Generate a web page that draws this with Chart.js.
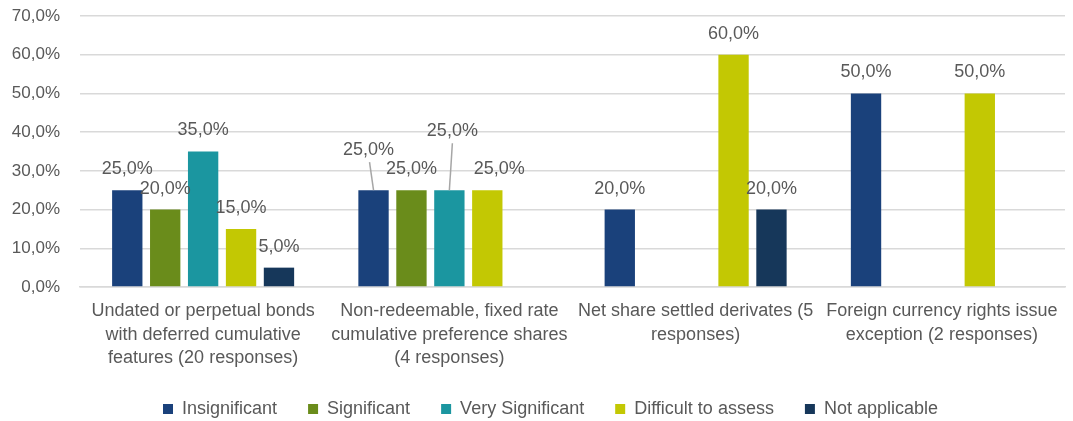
<!DOCTYPE html>
<html>
<head>
<meta charset="utf-8">
<script src="https://cdn.jsdelivr.net/npm/chart.js@4"></script>
<style>
  html, body { margin: 0; padding: 0; background: #fff; }
  #wrap { width: 1073px; height: 421px; }
</style>
</head>
<body>
<div id="wrap"><canvas id="chart" width="1073" height="421"></canvas></div>
<script>
// Data
const categories = [
  ['Undated or perpetual bonds', 'with deferred cumulative', 'features (20 responses)'],
  ['Non-redeemable, fixed rate', 'cumulative preference shares', '(4 responses)'],
  ['Net share settled derivates (5', 'responses)'],
  ['Foreign currency rights issue', 'exception (2 responses)']
];
const insignificant = [25, 25, 20, 50];
const significant = [20, 25, null, null];
const verySignificant = [35, 25, null, null];
const difficultToAssess = [15, 25, 60, 50];
const notApplicable = [5, null, 20, null];
const yTicks = [0, 10, 20, 30, 40, 50, 60, 70];

// Label nudges (dataset index -> category index -> [dx, dy]) for the moved labels
const labelNudge = {
  0: { 1: [-5, -19] },
  2: { 1: [3, -38] },
  3: { 1: [12, 0] }
};

const fmt = v => v.toFixed(1).replace('.', ',') + '%';
const FONT = '"Liberation Sans", Arial, sans-serif';
const TEXT = '#595959';

// Draw value labels above bars
const valueLabels = {
  id: 'valueLabels',
  afterDatasetsDraw(chart) {
    const ctx = chart.ctx;
    ctx.save();
    ctx.font = '18px ' + FONT;
    ctx.textAlign = 'center';
    ctx.textBaseline = 'middle';
    chart.data.datasets.forEach((ds, di) => {
      const meta = chart.getDatasetMeta(di);
      meta.data.forEach((bar, i) => {
        const v = ds.data[i];
        if (v == null) return;
        const nudge = (labelNudge[di] && labelNudge[di][i]) || [0, 0];
        const x = bar.x + nudge[0];
        const y = bar.y - 21 + nudge[1];
        if (nudge[1] < 0) {
          // leader line
          ctx.strokeStyle = '#a6a6a6';
          ctx.lineWidth = 1.5;
          ctx.beginPath();
          ctx.moveTo(x + (nudge[0] < 0 ? 1 : 0), y + 12);
          ctx.lineTo(bar.x, bar.y);
          ctx.stroke();
        }
        ctx.fillStyle = TEXT;
        ctx.fillText(fmt(v), x, y);
      });
    });
    ctx.restore();
  }
};

// Fixed legend height so the wide item spacing doesn't make it tall,
// and nudge it a bit right like the original
const legendTweak = {
  id: 'legendTweak',
  beforeInit(chart) {
    const fit = chart.legend.fit;
    chart.legend.fit = function () {
      fit.call(this);
      this.height = 52;
    };
  },
  afterLayout(chart) {
    chart.legend.left += 36;
  }
};

new Chart(document.getElementById('chart'), {
  type: 'bar',
  data: {
    labels: categories,
    datasets: [
      { label: 'Insignificant', data: insignificant, backgroundColor: '#1a417b' },
      { label: 'Significant', data: significant, backgroundColor: '#6a8c1b' },
      { label: 'Very Significant', data: verySignificant, backgroundColor: '#1b96a0' },
      { label: 'Difficult to assess', data: difficultToAssess, backgroundColor: '#c3c803' },
      { label: 'Not applicable', data: notApplicable, backgroundColor: '#16375a' }
    ]
  },
  options: {
    responsive: false,
    animation: false,
    devicePixelRatio: 1,
    layout: { padding: { left: 0, right: 8, top: 16, bottom: 0 } },
    datasets: { bar: { categoryPercentage: 0.77, barPercentage: 0.8 } },
    scales: {
      x: {
        afterFit: s => { s.height = 82; },
        grid: { display: false },
        border: { color: '#d9d9d9', width: 1.5 },
        ticks: { color: TEXT, font: { family: FONT, size: 18, lineHeight: 1.28 }, maxRotation: 0, autoSkip: false, padding: 5 }
      },
      y: {
        min: 0,
        max: 70,
        afterFit: s => { s.width = 80; },
        afterBuildTicks: s => { s.ticks = yTicks.map(v => ({ value: v })); },
        grid: { color: '#d9d9d9', lineWidth: 1.5, drawTicks: true, tickLength: 20, tickColor: 'rgba(0,0,0,0)' },
        border: { display: false },
        ticks: { color: TEXT, font: { family: FONT, size: 17 }, padding: 0, callback: v => fmt(v) }
      }
    },
    plugins: {
      legend: {
        position: 'bottom',
        labels: { color: TEXT, font: { family: FONT, size: 18 }, boxWidth: 10, boxHeight: 10, padding: 31 }
      },
      tooltip: { enabled: false }
    }
  },
  plugins: [valueLabels, legendTweak]
});
</script>
</body>
</html>
